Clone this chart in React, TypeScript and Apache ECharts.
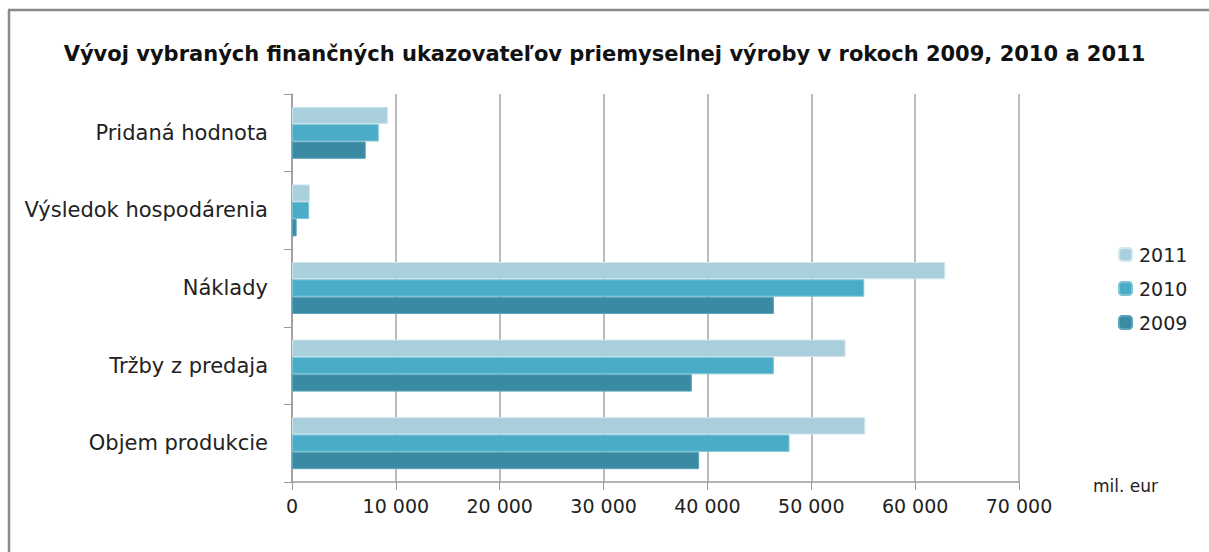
import React, { useEffect, useRef } from "react";
import * as echarts from "echarts";

const categories = [
  "Objem produkcie",
  "Tržby z predaja",
  "Náklady",
  "Výsledok hospodárenia",
  "Pridaná hodnota",
];
const values2009 = [39200, 38500, 46400, 450, 7100];
const values2010 = [47900, 46400, 55100, 1650, 8350];
const values2011 = [55200, 53300, 62900, 1730, 9240];
const xTicks = { min: 0, max: 70000, interval: 10000 };
const titleText =
  "Vývoj vybraných finančných ukazovateľov priemyselnej výroby v rokoch 2009, 2010 a 2011";
const unitText = "mil. eur";

const FONT = "DejaVu Sans";

export default function App() {
  const ref = useRef<HTMLDivElement>(null);
  useEffect(() => {
    document.body.style.margin = "0";
    const chart = echarts.init(ref.current!, null, { renderer: "svg" });
    const fmt = (v: number) =>
      String(v).replace(/\B(?=(\d{3})+(?!\d))/g, " ");
    chart.setOption({
      animation: false,
      backgroundColor: "#ffffff",
      title: {
        text: titleText,
        left: "center",
        top: 38,
        textStyle: {
          fontFamily: "DejaVu Sans",
          fontWeight: "bold",
          fontSize: 21,
          color: "#111",
        },
      },
      legend: {
        orient: "vertical",
        left: 1113,
        top: 240,
        itemWidth: 13,
        itemHeight: 13,
        itemGap: 15,
        data: ["2011", "2010", "2009"],
        textStyle: { fontFamily: FONT, fontSize: 19, color: "#222", padding: [0, 0, 0, 2] },
      },
      grid: { left: 292, right: 190, top: 94, bottom: 70, containLabel: false },
      xAxis: {
        type: "value",
        min: xTicks.min,
        max: xTicks.max,
        interval: xTicks.interval,
        axisLine: { show: true, lineStyle: { color: "#9a9a9a", width: 1.5 } },
        axisTick: { show: true, length: 8, lineStyle: { color: "#9a9a9a" } },
        splitLine: { show: true, lineStyle: { color: "#a6a6a6", width: 1.5 } },
        axisLabel: {
          formatter: fmt,
          margin: 14,
          fontFamily: FONT,
          fontSize: 19,
          color: "#222",
        },
      },
      yAxis: {
        type: "category",
        data: categories,
        axisLine: { show: true, lineStyle: { color: "#9a9a9a", width: 1.5 } },
        axisTick: { show: true, length: 8, lineStyle: { color: "#9a9a9a" } },
        axisLabel: {
          margin: 24,
          fontFamily: FONT,
          fontSize: 21,
          color: "#222",
        },
      },
      series: [
        {
          name: "2011",
          type: "bar",
          data: values2011,
          barGap: "0%",
          barCategoryGap: "33%",
          itemStyle: { color: "#a9cedc", borderColor: "#d2e6ee", borderWidth: 1 },
        },
        {
          name: "2010",
          type: "bar",
          data: values2010,
          barGap: "0%",
          barCategoryGap: "33%",
          itemStyle: { color: "#4aacc6", borderColor: "#7cc4d6", borderWidth: 1 },
        },
        {
          name: "2009",
          type: "bar",
          data: values2009,
          barGap: "0%",
          barCategoryGap: "33%",
          itemStyle: { color: "#3b8aa3", borderColor: "#5aa3ba", borderWidth: 1 },
        },
      ],
      graphic: [
        {
          type: "line",
          shape: { x1: 9, y1: 10, x2: 9, y2: 552 },
          style: { stroke: "#8a8a8a", lineWidth: 2.5 },
        },
        {
          type: "line",
          shape: { x1: 8, y1: 10, x2: 1209, y2: 10 },
          style: { stroke: "#8a8a8a", lineWidth: 2.5 },
        },
        {
          type: "text",
          x: 1093,
          y: 477,
          style: { text: unitText, fontFamily: FONT, fontSize: 17, fill: "#222" },
        },
      ],
    });
    return () => chart.dispose();
  }, []);
  return <div ref={ref} style={{ width: 1209, height: 552 }} />;
}
